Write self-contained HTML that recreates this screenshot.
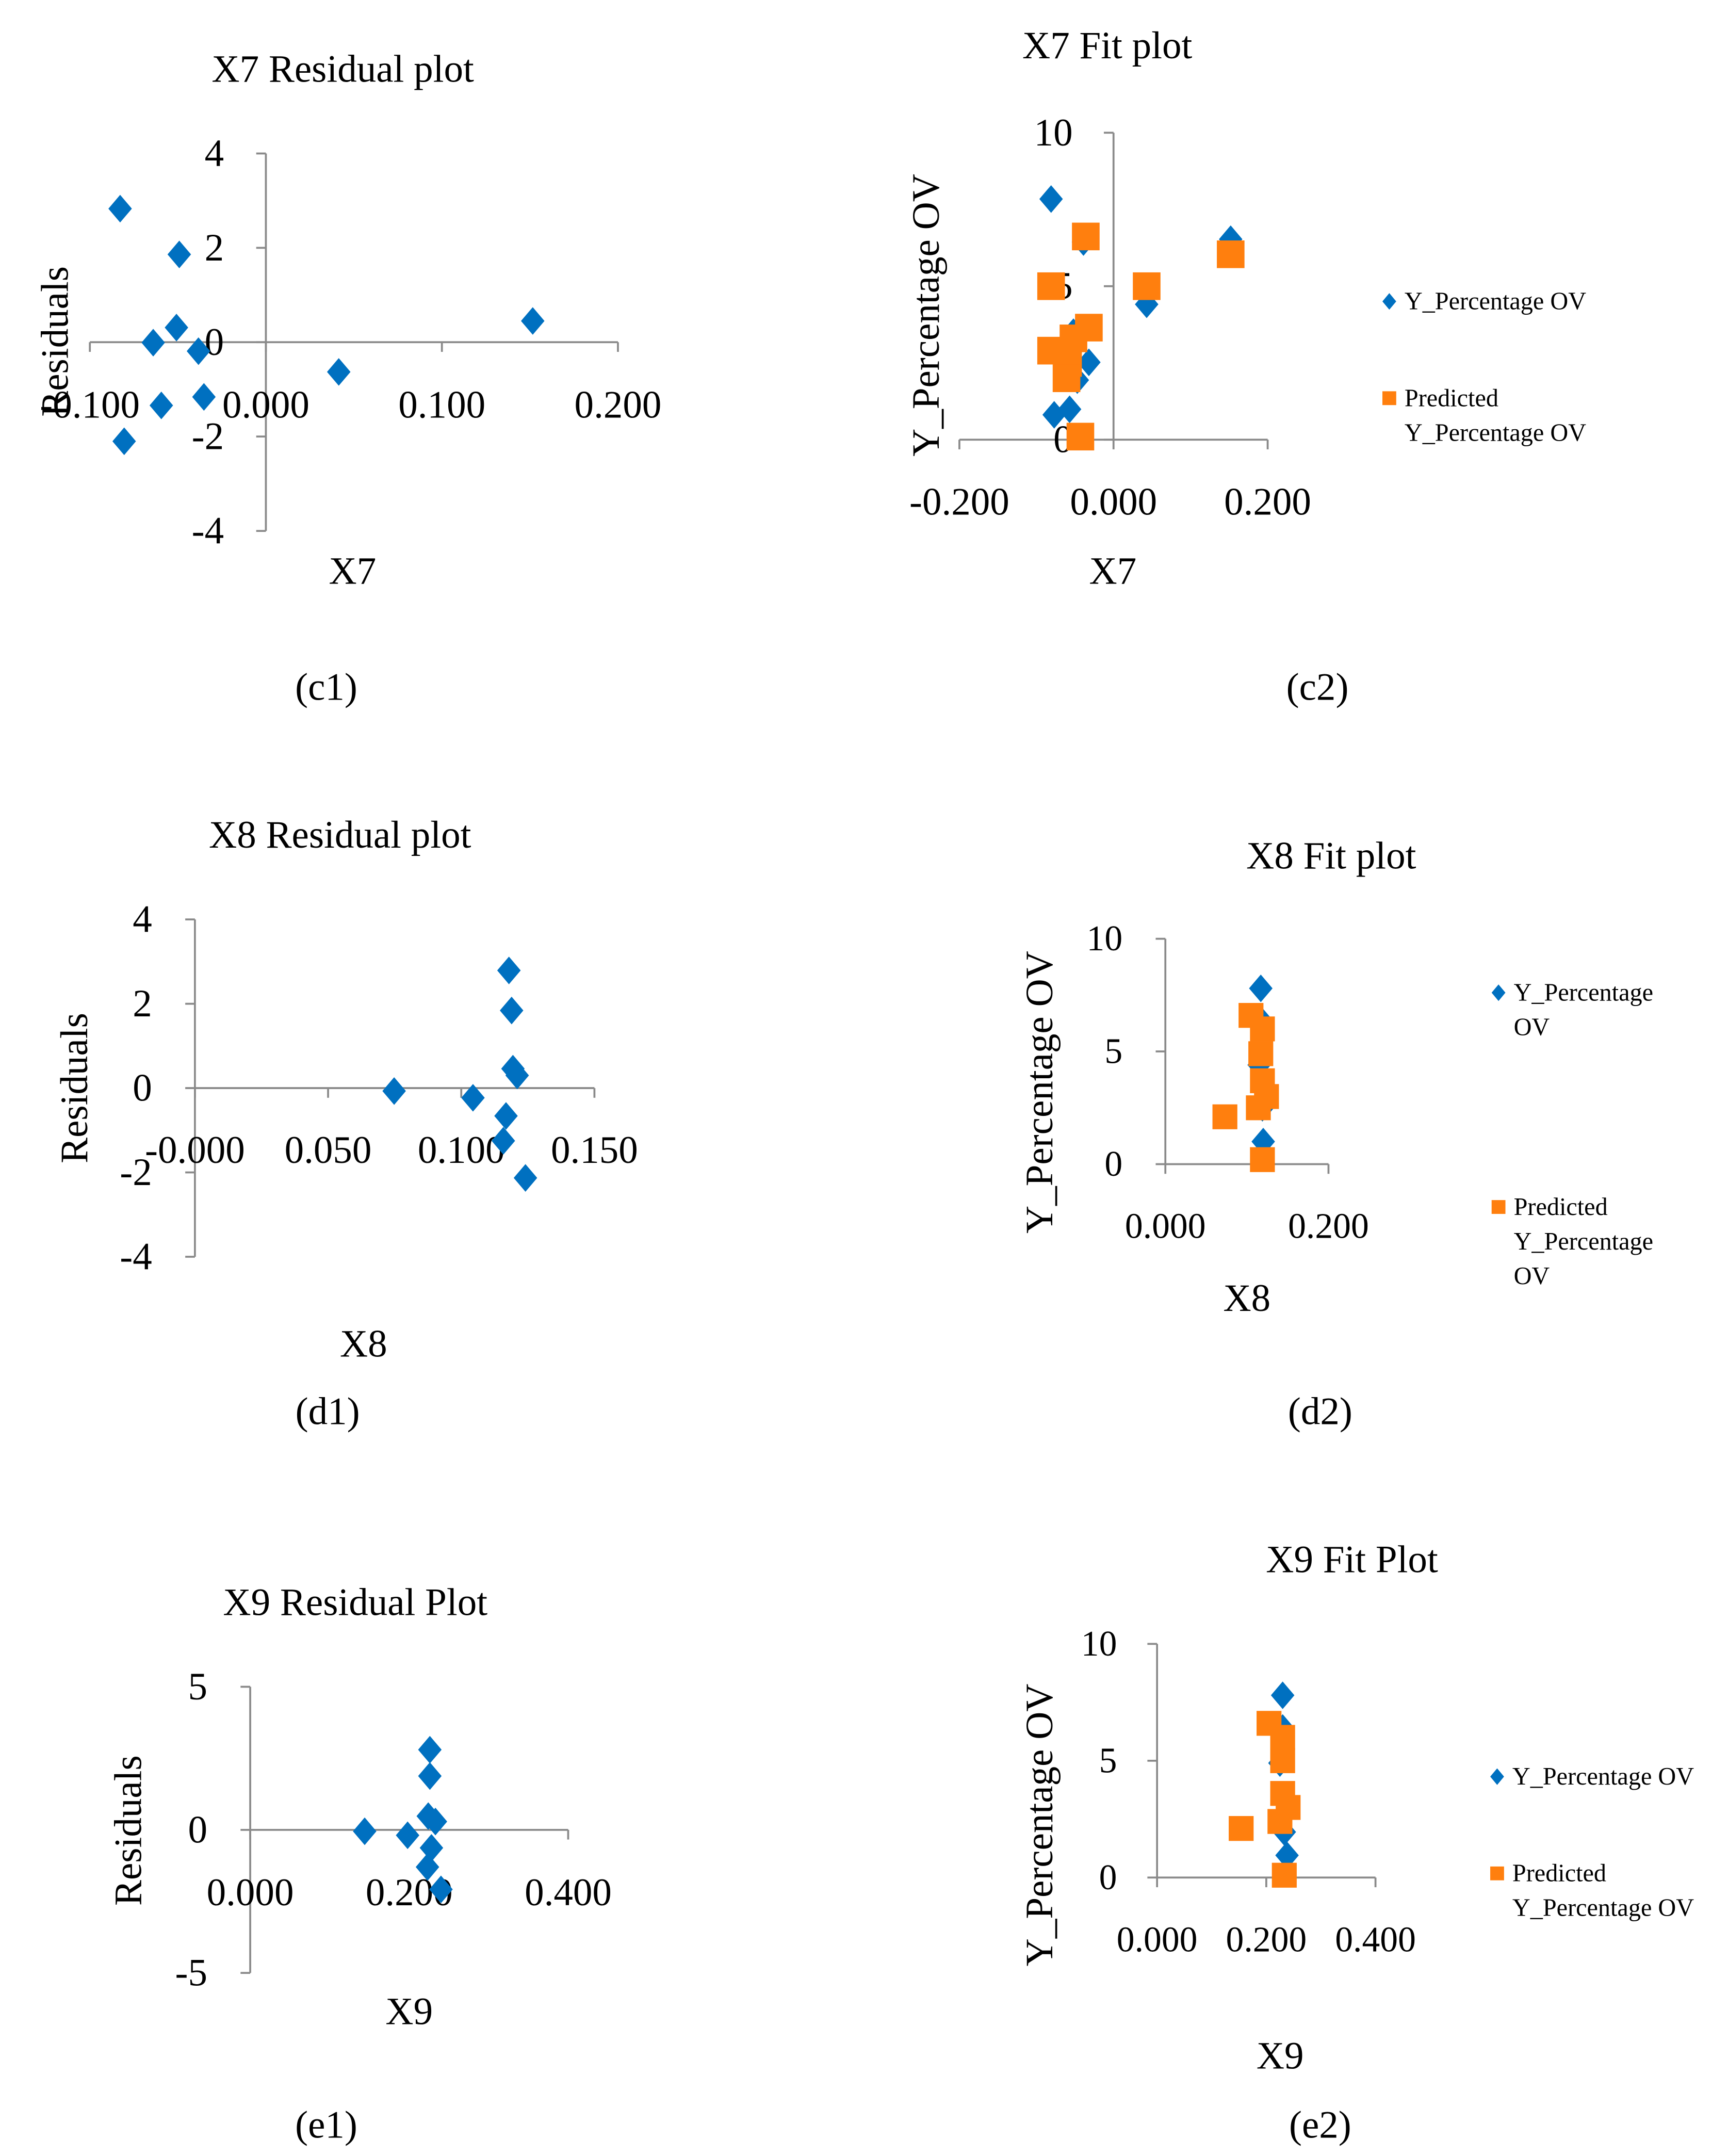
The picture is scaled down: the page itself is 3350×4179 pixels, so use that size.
<!DOCTYPE html>
<html><head><meta charset="utf-8"><style>
html,body{margin:0;padding:0;background:#fff}
svg{display:block}
text{font-family:"Liberation Serif",serif;fill:#000}
</style></head><body>
<svg id="fig" xmlns="http://www.w3.org/2000/svg" width="3350" height="4179" viewBox="0 0 1250 1559.4" preserveAspectRatio="none"></svg>
<script>
// ---- data ----
const c1X=[-0.0828,-0.0492,-0.0508,-0.064,-0.0383,-0.0352,-0.0594,-0.0805,0.0414,0.1516];
const c1Res=[2.83,1.86,0.31,-0.01,-0.19,-1.16,-1.34,-2.10,-0.63,0.45];
const c2ActX=[-0.081,-0.039,0.152,0.043,-0.032,-0.047,-0.057,-0.077,-0.052];
const c2ActY=[7.84,6.44,6.53,4.41,2.52,1.94,0.99,0.81,3.5];
const c2PredX=[-0.036,0.152,0.043,-0.081,-0.032,-0.052,-0.081,-0.059,-0.061,-0.043];
const c2PredY=[6.62,6.04,5.0,5.0,3.65,3.3,2.9,2.5,2.0,0.1];
const d1X=[0.0748,0.1044,0.1179,0.1189,0.1194,0.121,0.1168,0.1158,0.1241];
const d1Res=[-0.07,-0.23,2.79,1.84,0.46,0.30,-0.66,-1.25,-2.13];
const d2ActX=[0.117,0.117,0.115,0.119,0.120];
const d2ActY=[7.8,6.4,4.4,2.5,1.0];
const d2PredX=[0.105,0.119,0.117,0.119,0.124,0.114,0.073,0.119];
const d2PredY=[6.6,6.0,4.9,3.7,3.0,2.5,2.1,0.2];
const e1X=[0.144,0.198,0.226,0.226,0.224,0.233,0.228,0.223,0.240];
const e1Res=[-0.05,-0.19,2.8,1.88,0.48,0.29,-0.63,-1.30,-2.08];
const e2ActX=[0.230,0.230,0.225,0.233,0.238];
const e2ActY=[7.8,6.4,4.9,1.95,0.95];
const e2PredX=[0.205,0.230,0.230,0.230,0.240,0.225,0.154,0.233];
const e2PredY=[6.6,6.0,5.0,3.6,3.0,2.4,2.1,0.1];
const c1XTicks=[-0.1,0,0.1,0.2], c1XLabels=["-0.100","0.000","0.100","0.200"];
const c1YTicks=[4,2,0,-2,-4], c1YLabels=["4","2","0","-2","-4"];
const c2XTicks=[-0.2,0,0.2], c2XLabels=["-0.200","0.000","0.200"];
const fitYTicks=[10,5,0], fitYLabels=["10","5","0"];
const d1XTicks=[0,0.05,0.1,0.15], d1XLabels=["-0.000","0.050","0.100","0.150"];
const d2XTicks=[0,0.2], d2XLabels=["0.000","0.200"];
const e1XTicks=[0,0.2,0.4], e1XLabels=["0.000","0.200","0.400"];
const e1YTicks=[5,0,-5], e1YLabels=["5","0","-5"];
const e2XTicks=[0,0.2,0.4], e2XLabels=["0.000","0.200","0.400"];

const NS="http://www.w3.org/2000/svg";
const svg=document.getElementById('fig');
const BLUE="#0070C0", ORANGE="#FF7F0E", GRAY="#8a8a8a";
function mk(tag,attrs,parent){const e=document.createElementNS(NS,tag);for(const k in attrs)e.setAttribute(k,attrs[k]);(parent||svg).appendChild(e);return e;}
function txt(s,x,y,size,anchor,parent,rot){const t=mk('text',{x:x,y:y,'font-size':size,'text-anchor':anchor||'middle','dominant-baseline':'central'},parent);if(rot)t.setAttribute('transform','rotate(-90 '+x+' '+y+')');t.textContent=s;return t;}

function panel(cfg){
  const g=mk('g',{});
  
  
  const sx=v=>cfg.x0+(v-cfg.xmin)/(cfg.xmax-cfg.xmin)*(cfg.x1-cfg.x0);
  const sy=v=>cfg.y0+(v-cfg.ymin)/(cfg.ymax-cfg.ymin)*(cfg.y1-cfg.y0);
  const ax=sx(0), ay=sy(0);
  // axes
  const ya=mk('line',{x1:ax,x2:ax,y1:sy(cfg.ymax),y2:sy(cfg.ymin),stroke:GRAY,'stroke-width':1.4},g);
  
  const xa=mk('line',{x1:sx(cfg.xmin),x2:sx(cfg.xmax),y1:ay,y2:ay,stroke:GRAY,'stroke-width':1.4},g);
  
  cfg.yTicks.forEach((v,i)=>{
    mk('line',{x1:ax-7,x2:ax,y1:sy(v),y2:sy(v),stroke:GRAY,'stroke-width':1.4},g);
    const t=txt(cfg.yLabels[i],cfg.yLabX,sy(v),cfg.fs,'end',g);
    
  });
  cfg.xTicks.forEach((v,i)=>{
    mk('line',{x1:sx(v),x2:sx(v),y1:ay,y2:ay+7,stroke:GRAY,'stroke-width':1.4},g);
    const t=txt(cfg.xLabels[i],sx(v),cfg.xLabY,cfg.fs,'middle',g);
    
  });
  // series
  (cfg.series||[]).forEach(s=>{
    s.xs.forEach((xv,i)=>{
      const px=sx(xv), py=sy(s.ys[i]), h=s.h;
      let m;
      if(s.shape==='d') m=mk('polygon',{points:`${px},${py-h} ${px+h*0.85},${py} ${px},${py+h} ${px-h*0.85},${py}`,fill:s.color},g);
      else m=mk('rect',{x:px-h,y:py-h,width:2*h,height:2*h,fill:s.color},g);
      
      
    });
  });
  const t1=txt(cfg.title,cfg.titleX,cfg.titleY,28,'middle',g);
  
  const t2=txt(cfg.xTitle,cfg.xTitleX,cfg.xTitleY,28,'middle',g);
  
  const t3=txt(cfg.yTitle,cfg.yTitleX,cfg.yTitleY,28,'middle',g,true);
  
  const t4=txt(cfg.cap,cfg.capX,cfg.capY,28,'middle',g);
  
  if(cfg.legend){
    cfg.legend.forEach(L=>{
      let m;
      if(L.shape==='d') m=mk('polygon',{points:`${L.x},${L.y-6} ${L.x+5},${L.y} ${L.x},${L.y+6} ${L.x-5},${L.y}`,fill:BLUE},g);
      else m=mk('rect',{x:L.x-5,y:L.y-5,width:10,height:10,fill:ORANGE},g);
      
      L.lines.forEach((s,i)=>{const t=txt(s,L.x+11,L.y+i*25,18,'start',g);
        });
    });
  }
}

panel({name:'c1-residual-plot',x0:65,x1:447,xmin:-0.1,xmax:0.2,y0:111,y1:384,ymin:4,ymax:-4,
 xTicks:c1XTicks,xLabels:c1XLabels,yTicks:c1YTicks,yLabels:c1YLabels,fs:28,yLabX:162,xLabY:293,
 series:[{xs:c1X,ys:c1Res,shape:'d',h:10,color:BLUE,name:'residual-point'}],
 title:'X7 Residual plot',titleX:248,titleY:50,xTitle:'X7',xTitleX:255,xTitleY:413,yTitle:'Residuals',yTitleX:40,yTitleY:247,cap:'(c1)',capX:236,capY:497});

panel({name:'c2-fit-plot',x0:694,x1:917,xmin:-0.2,xmax:0.2,y0:96,y1:318,ymin:10,ymax:0,
 xTicks:c2XTicks,xLabels:c2XLabels,yTicks:fitYTicks,yLabels:fitYLabels,fs:28,yLabX:776,xLabY:363,
 series:[{xs:c2ActX,ys:c2ActY,shape:'d',h:10,color:BLUE,name:'actual-point'},{xs:c2PredX,ys:c2PredY,shape:'s',h:10,color:ORANGE,name:'predicted-point'}],
 title:'X7 Fit  plot',titleX:801,titleY:33,xTitle:'X7',xTitleX:805,xTitleY:413,yTitle:'Y_Percentage OV',yTitleX:670,yTitleY:228,cap:'(c2)',capX:953,capY:497,
 legend:[{shape:'d',x:1005,y:218,lines:['Y_Percentage OV']},{shape:'s',x:1005,y:288,lines:['Predicted','Y_Percentage OV']}]});

panel({name:'d1-residual-plot',x0:141,x1:430,xmin:0,xmax:0.15,y0:665,y1:909,ymin:4,ymax:-4,
 xTicks:d1XTicks,xLabels:d1XLabels,yTicks:c1YTicks,yLabels:c1YLabels,fs:28,yLabX:110,xLabY:832,
 series:[{xs:d1X,ys:d1Res,shape:'d',h:10,color:BLUE,name:'residual-point'}],
 title:'X8 Residual plot',titleX:246,titleY:604,xTitle:'X8',xTitleX:263,xTitleY:972,yTitle:'Residuals',yTitleX:54,yTitleY:787,cap:'(d1)',capX:237,capY:1021});

panel({name:'d2-fit-plot',x0:843,x1:961,xmin:0,xmax:0.2,y0:679,y1:842,ymin:10,ymax:0,
 xTicks:d2XTicks,xLabels:d2XLabels,yTicks:fitYTicks,yLabels:fitYLabels,fs:26,yLabX:812,xLabY:887,
 series:[{xs:d2ActX,ys:d2ActY,shape:'d',h:10,color:BLUE,name:'actual-point'},{xs:d2PredX,ys:d2PredY,shape:'s',h:9,color:ORANGE,name:'predicted-point'}],
 title:'X8 Fit  plot',titleX:963,titleY:619,xTitle:'X8',xTitleX:902,xTitleY:939,yTitle:'Y_Percentage OV',yTitleX:752,yTitleY:790,cap:'(d2)',capX:955,capY:1021,
 legend:[{shape:'d',x:1084,y:718,lines:['Y_Percentage','OV']},{shape:'s',x:1084,y:873,lines:['Predicted','Y_Percentage','OV']}]});

panel({name:'e1-residual-plot',x0:181,x1:411,xmin:0,xmax:0.4,y0:1220,y1:1427,ymin:5,ymax:-5,
 xTicks:e1XTicks,xLabels:e1XLabels,yTicks:e1YTicks,yLabels:e1YLabels,fs:28,yLabX:150,xLabY:1369,
 series:[{xs:e1X,ys:e1Res,shape:'d',h:10,color:BLUE,name:'residual-point'}],
 title:'X9 Residual Plot',titleX:257,titleY:1159,xTitle:'X9',xTitleX:296,xTitleY:1455,yTitle:'Residuals',yTitleX:93,yTitleY:1324,cap:'(e1)',capX:236,capY:1537});

panel({name:'e2-fit-plot',x0:837,x1:995,xmin:0,xmax:0.4,y0:1189,y1:1358,ymin:10,ymax:0,
 xTicks:e2XTicks,xLabels:e2XLabels,yTicks:fitYTicks,yLabels:fitYLabels,fs:26,yLabX:808,xLabY:1403,
 series:[{xs:e2ActX,ys:e2ActY,shape:'d',h:10,color:BLUE,name:'actual-point'},{xs:e2PredX,ys:e2PredY,shape:'s',h:9,color:ORANGE,name:'predicted-point'}],
 title:'X9 Fit  Plot',titleX:978,titleY:1128,xTitle:'X9',xTitleX:926,xTitleY:1487,yTitle:'Y_Percentage OV',yTitleX:752,yTitleY:1320,cap:'(e2)',capX:955,capY:1537,
 legend:[{shape:'d',x:1083,y:1285,lines:['Y_Percentage OV']},{shape:'s',x:1083,y:1355,lines:['Predicted','Y_Percentage OV']}]});
</script>
</body></html>
